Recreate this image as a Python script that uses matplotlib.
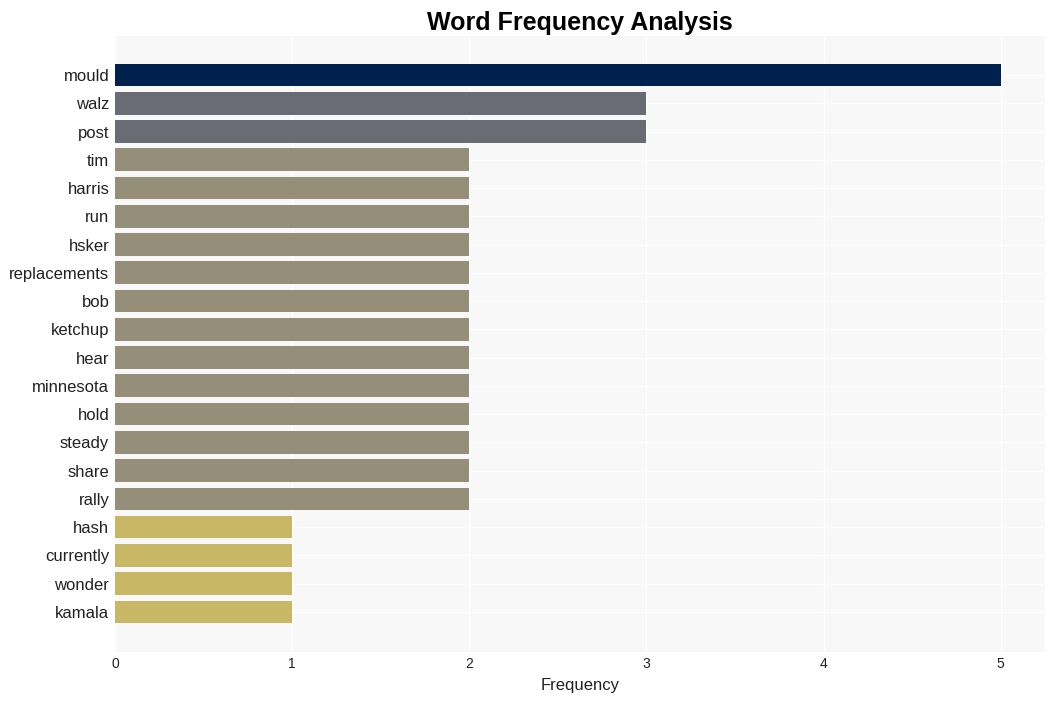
import matplotlib
matplotlib.use('Agg')
import matplotlib.pyplot as plt

plt.rcParams['font.family'] = ['Liberation Sans', 'DejaVu Sans']

words = ['mould', 'walz', 'post', 'tim', 'harris', 'run', 'hsker', 'replacements',
         'bob', 'ketchup', 'hear', 'minnesota', 'hold', 'steady', 'share', 'rally',
         'hash', 'currently', 'wonder', 'kamala']
counts = [5, 3, 3, 2, 2, 2, 2, 2, 2, 2, 2, 2, 2, 2, 2, 2, 1, 1, 1, 1]

# colour per frequency level, as in the picture
level_colors = {5: '#00204e', 3: '#696c75', 2: '#958e78', 1: '#c8b866'}
colors = [level_colors[c] for c in counts]

fig = plt.figure(figsize=(10.54, 7.01), dpi=100)
ax = fig.add_axes([0.109, 0.07, 0.8825, 0.8786])
ax.set_facecolor('#f8f8f8')

ypos = list(range(len(words)))
ax.barh(ypos, counts, height=0.8, color=colors, zorder=3)
ax.set_yticks(ypos)
ax.set_yticklabels(words, fontsize=12, color='#222222')
ax.set_ylim(len(words) - 1 + 1.42, -1.38)
ax.set_xlim(0, 5.25)
ax.set_xticks([0, 1, 2, 3, 4, 5])
ax.tick_params(axis='x', labelsize=10, colors='#222222', length=0, pad=4)
ax.tick_params(axis='y', length=0, pad=4)

ax.grid(True, color='white', linewidth=1.0, zorder=0)
for s in ax.spines.values():
    s.set_visible(False)

ax.set_xlabel('Frequency', fontsize=12, color='#222222', labelpad=5)
ax.set_title('Word Frequency Analysis', fontsize=18, fontweight='bold', pad=4)

fig.savefig('out.png', dpi=100)
